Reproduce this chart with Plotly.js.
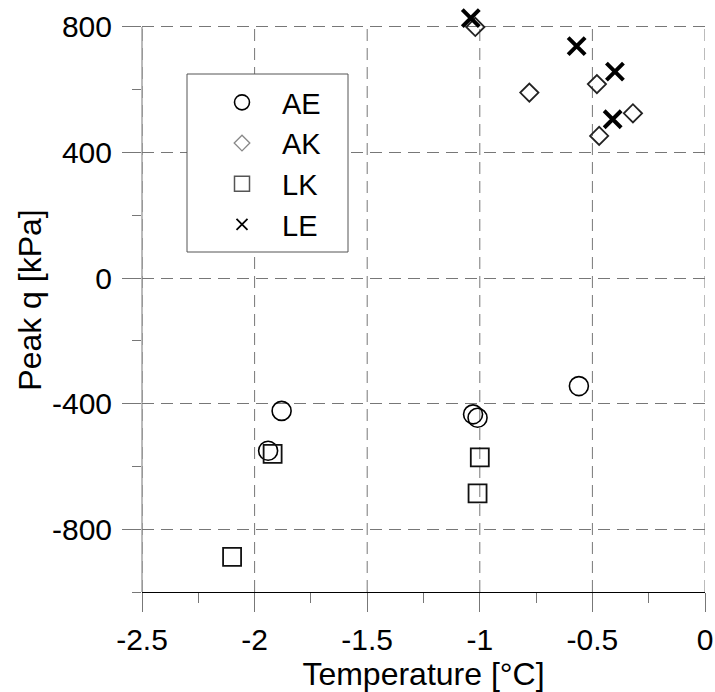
<!DOCTYPE html>
<html>
<head>
<meta charset="utf-8">
<script src="https://cdn.plot.ly/plotly-3.0.1.min.js"></script>
<style>html,body{margin:0;padding:0;background:#fff;}#chart{width:715px;height:692px;}</style>
</head>
<body>
<div id="chart"></div>
<script>
// Data
const seriesNames = ["AE", "AK", "LK", "LE"];
const aeTemp = [-1.88, -1.94, -1.03, -1.01, -0.56];
const aePeakQ = [-423, -550, -434, -445, -344];
const akTemp = [-1.02, -0.78, -0.48, -0.47, -0.32];
const akPeakQ = [800, 591, 618, 453, 525];
const lkTemp = [-1.92, -1.00, -1.01, -2.10];
const lkPeakQ = [-560, -571, -686, -888];
const leTemp = [-1.04, -0.57, -0.40, -0.41];
const lePeakQ = [828, 739, 658, 506];
const xTickVals = [-2.5, -2, -1.5, -1, -0.5, 0];
const xTickText = ["-2.5", "-2", "-1.5", "-1", "-0.5", "0"];
const yTickVals = [-800, -400, 0, 400, 800];
const yTickText = ["-800", "-400", "0", "400", "800"];
const yAxisMin = -1000, yAxisMax = 800;

const FONT = "Liberation Sans, Arial, sans-serif";

const styles = {
  AE: {plot: {symbol: "circle-open", size: 19, color: "#000", lw: 1.6},
       leg:  {symbol: "circle-open", size: 15, color: "#000", lw: 1.6}},
  AK: {plot: {symbol: "diamond-open", size: 14, color: "#222", lw: 1.8},
       leg:  {symbol: "diamond-open", size: 12, color: "#888", lw: 1.3}},
  LK: {plot: {symbol: "square-open", size: 18, color: "#111", lw: 1.8},
       leg:  {symbol: "square-open", size: 15, color: "#555", lw: 1.5}},
  LE: {plot: {symbol: "x-thin-open", size: 17, color: "#000", lw: 4},
       leg:  {symbol: "x-thin-open", size: 11, color: "#000", lw: 1.8}}
};
const xs = {AE: aeTemp, AK: akTemp, LK: lkTemp, LE: leTemp};
const ys = {AE: aePeakQ, AK: akPeakQ, LK: lkPeakQ, LE: lePeakQ};

const traces = [];
seriesNames.forEach(function(n){
  const s = styles[n].plot;
  traces.push({
    type: "scatter", mode: "markers", name: n, legendgroup: n, showlegend: false,
    x: xs[n], y: ys[n], cliponaxis: false,
    marker: {symbol: s.symbol, size: s.size, color: s.color, line: {color: s.color, width: s.lw}}
  });
});
seriesNames.forEach(function(n){
  const s = styles[n].leg;
  traces.push({
    type: "scatter", mode: "markers", name: n, legendgroup: n, showlegend: true,
    x: [null], y: [null], hoverinfo: "skip",
    marker: {symbol: s.symbol, size: s.size, color: s.color, line: {color: s.color, width: s.lw}}
  });
});

const GRID = {color: "#777", width: 1, dash: "12px,7px"};
const shapes = [];
// vertical dashed grid lines, stopping at the top of the value axis
xTickVals.forEach(function(v){
  shapes.push({type: "line", xref: "x", yref: "y", x0: v, x1: v, y0: yAxisMin, y1: yAxisMax,
    line: GRID, layer: "below"});
});
// value axis line (from bottom to 800 only)
shapes.push({type: "line", xref: "paper", yref: "y", x0: 0, x1: 0, y0: yAxisMin, y1: yAxisMax,
  line: {color: "#777", width: 1}, layer: "above"});
// legend frame
shapes.push({type: "rect", xref: "paper", yref: "paper",
  x0: (187 - 142) / 563, x1: (348 - 142) / 563, y0: (592 - 252) / 584, y1: (592 - 74) / 584,
  line: {color: "#555", width: 1}, fillcolor: "#fff", layer: "above"});

const layout = {
  width: 715, height: 692,
  margin: {l: 142, r: 10, t: 8, b: 100},
  paper_bgcolor: "#fff", plot_bgcolor: "#fff",
  font: {family: FONT, size: 30, color: "#000"},
  showlegend: true,
  shapes: shapes,
  legend: {
    x: (202 - 142) / 563, y: (592 - 77) / 584, xanchor: "left", yanchor: "top",
    borderwidth: 0, bgcolor: "rgba(0,0,0,0)",
    font: {family: FONT, size: 29, color: "#000"},
    tracegroupgap: 0, itemwidth: 70
  },
  xaxis: {
    range: [-2.5, 0], tickvals: xTickVals, ticktext: xTickText,
    showline: true, linecolor: "#000", linewidth: 1, mirror: false,
    ticks: "outside", ticklen: 19, tickcolor: "#777", tickwidth: 1,
    showgrid: false, zeroline: false, ticklabelstandoff: 2,
    minor: {dtick: 0.25, ticks: "outside", ticklen: 10, tickcolor: "#777", showgrid: false},
    tickfont: {family: FONT, size: 30, color: "#000"},
    title: {text: "Temperature [°C]", font: {family: FONT, size: 32, color: "#000"}, standoff: 2}
  },
  yaxis: {
    range: [yAxisMin, 860.5], tickvals: yTickVals, ticktext: yTickText,
    showline: false, mirror: false,
    ticks: "outside", ticklen: 19, tickcolor: "#777", tickwidth: 1,
    showgrid: true, gridcolor: "#777", gridwidth: 1, griddash: "12px,7px",
    zeroline: false, ticklabelstandoff: 4,
    minor: {dtick: 200, tick0: 0, ticks: "outside", ticklen: 9, tickcolor: "#777", showgrid: false},
    tickfont: {family: FONT, size: 30, color: "#000"},
    title: {text: "Peak q [kPa]", font: {family: FONT, size: 32, color: "#000"}, standoff: 0}
  }
};

Plotly.newPlot("chart", traces, layout, {displayModeBar: false});
</script>
</body>
</html>
